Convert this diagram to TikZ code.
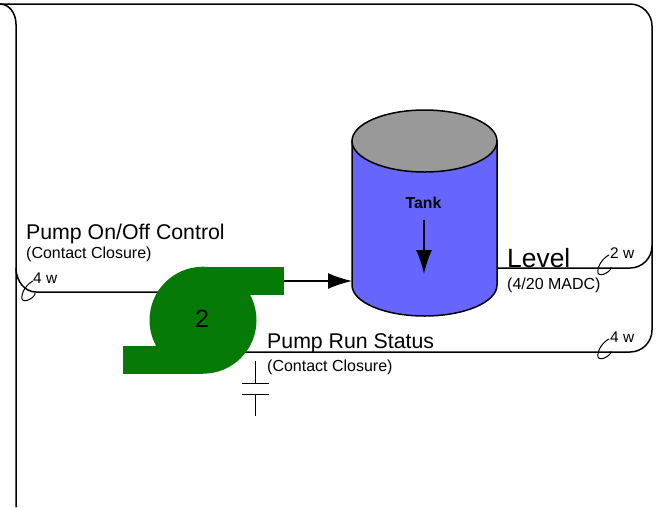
\documentclass[tikz,border=0pt]{standalone}
\usepackage{xcolor}
\usepackage{fontspec}
\setmainfont{Liberation Sans}
\usetikzlibrary{arrows.meta}
\definecolor{pumpgreen}{HTML}{067A06}
\definecolor{tankblue}{HTML}{6666FF}
\definecolor{tankgray}{HTML}{999999}
\tikzset{
	wire/.style={color=black, line width=1.5pt},
	thinwire/.style={color=black, line width=1pt},
	bigtip/.style={-{Latex[length=24pt,width=16pt]}},
	lbl/.style={anchor=base west, inner sep=0pt},
	lblbig/.style={lbl, font=\fontsize{21.3}{22}\selectfont},
	lblsmall/.style={lbl, font=\fontsize{16}{16}\selectfont}
}
\begin{document}
\begin{tikzpicture}[x=1pt,y=-1pt]
		\useasboundingbox (0,0) rectangle (656,507);
		% tank
		\coordinate (tankL) at (352,141);
		\coordinate (tankR) at (497,141);
		\coordinate (tankBL) at (352,285);
		\coordinate (tankBR) at (497,285);
		\draw[wire, fill=tankblue] (tankL) -- (tankBL) arc[start angle=180, end angle=0, x radius=72.5, y radius=31] -- (tankR) -- cycle;
		\draw[wire, fill=tankgray] (424.5,141) ellipse [x radius=72.5, y radius=31];
		\node[lbl, font=\fontsize{15.8}{16}\selectfont\bfseries, anchor=base] (tank) at (423.5,208) {Tank};
		\coordinate (levelA) at (424,220);
		\coordinate (levelB) at (424,274);
		\draw[wire, bigtip] (levelA) -- (levelB);
		% wires
		\coordinate (pumpIn) at (170,292);
		\coordinate (pumpOut) at (284,281);
		\coordinate (tankIn) at (352,281);
		\coordinate (pumpRun) at (240,352);
		\draw[wire, bigtip] (pumpOut) -- (tankIn);
		\draw[wire] (0,4) -- (630,4) arc[start angle=-90, end angle=0, radius=22] -- (652,330) arc[start angle=0, end angle=90, radius=22] -- (pumpRun);
		\draw[wire] (tankBR |- 0,268) -- (630,268) arc[start angle=90, end angle=0, radius=22];
		\draw[wire] (0,4) arc[start angle=-90, end angle=0, x radius=16, y radius=20] -- (16,507);
		\draw[wire] (16,268) arc[start angle=180, end angle=90, x radius=20, y radius=24] -- (pumpIn);
		% pump
		\fill[pumpgreen] (203,320.2) circle (53.5);
		\fill[pumpgreen] (203,267) rectangle (284,295);
		\fill[pumpgreen] (123,346) rectangle (203,373.7);
		\node[inner sep=0pt, anchor=base, font=\fontsize{25}{25}\selectfont] (pump) at (202,327) {2};
		% contact
		\coordinate (cA) at (255,361);
		\coordinate (cB) at (255,383);
		\coordinate (cC) at (255,394);
		\coordinate (cD) at (255,416);
		\draw[thinwire] (cA) -- (cB);
		\draw[thinwire] (cC) -- (cD);
		\draw[thinwire] (242,383) -- (269,383);
		\draw[thinwire] (242,394) -- (269,394);
		% wire count marks
		\draw[thinwire] (33,281) .. controls (27,284) and (21,292) .. (22,299) .. controls (24,304) and (36,297) .. (35,293);
		\draw[thinwire] (609,255) .. controls (603,258) and (597,266) .. (598,273) .. controls (600,278) and (612,271) .. (611,267);
		\draw[thinwire] (609,339) .. controls (603,342) and (597,350) .. (598,357) .. controls (600,362) and (612,355) .. (611,351);
		% labels
		\node[lblbig] (pumpCtl) at (26,239) {Pump On/Off Control};
		\node[lblsmall] (pumpCtlType) at (26,258) {(Contact Closure)};
		\node[lblbig] (runStat) at (267,348) {Pump Run Status};
		\node[lblsmall] (runStatType) at (267,371) {(Contact Closure)};
		\node[lbl, font=\fontsize{26.4}{27}\selectfont] (level) at (507,267) {Level};
		\node[lblsmall] (levelType) at (507,289) {(4/20 MADC)};
		\node[lbl, font=\fontsize{15.4}{16}\selectfont] (wA) at (33,283) {4 w};
		\node[lbl, font=\fontsize{15.4}{16}\selectfont] (wB) at (610,258) {2 w};
		\node[lbl, font=\fontsize{15.4}{16}\selectfont] (wC) at (610,342) {4 w};
	\end{tikzpicture}
\end{document}
